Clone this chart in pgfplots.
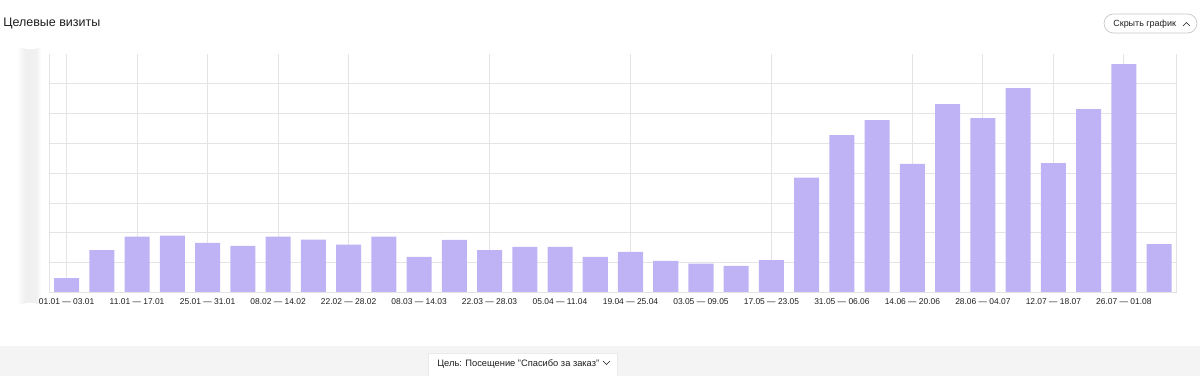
\documentclass[border=0pt]{standalone}
\usepackage{fontspec}
\setmainfont{Liberation Sans}
\usepackage{pgfplots}
\pgfplotsset{compat=1.18}
\definecolor{barc}{HTML}{BFB3F5}
\definecolor{gridc}{HTML}{E4E4E4}
\definecolor{band}{HTML}{F4F4F4}
\definecolor{txt}{HTML}{1E1E1E}
\begin{document}
\begin{tikzpicture}[x=0.02cm,y=0.02cm]
\path[use as bounding box] (0,0) rectangle (1200,376);
% bottom band
\fill[band] (0,0) rectangle (1200,30);
\fill[white] (428,0) rectangle (617,23);
\draw[black!8] (428,0) -- (428,23) -- (617,23) -- (617,0);
\node[anchor=base west, inner sep=0pt, text=txt, font=\fontsize{5.3}{6}\selectfont] at (437,10) {Цель: Посещение "Спасибо за заказ"};
\draw[txt, line width=0.3pt] (603,15) -- (606.5,11.5) -- (610,15);
% title
\node[anchor=base west, inner sep=0pt, text=txt, font=\fontsize{7.1}{8}\selectfont] at (3,349) {Целевые визиты};
% button
\draw[black!22, line width=0.4pt, rounded corners=0.19cm] (1104,343) rectangle (1197,362);
\node[anchor=base west, inner sep=0pt, text=txt, font=\fontsize{5.1}{6}\selectfont] at (1113,349) {Скрыть график};
\draw[txt, line width=0.3pt] (1183,350) -- (1186.5,353.5) -- (1190,350);
% blurred y labels
\shade[left color=white, right color=black!6] (17,73) rectangle (25,327);
\fill[black!6] (25,73) rectangle (36,327);
\shade[left color=black!6, right color=white] (36,73) rectangle (41,327);
\begin{axis}[
  at={(0.98cm,1.674cm)}, anchor=south west,
  width=22.56cm, height=4.766cm, scale only axis,
  xmin=-0.5, xmax=31.5, ymin=0, ymax=8,
  axis line style={draw=none},
  ytick={1,...,7}, yticklabels={},
  ymajorgrids, major grid style={gridc, line width=0.5pt},
  major tick length=0pt,
  xtick={0,2,...,30},
  xticklabels={01.01 — 03.01, 11.01 — 17.01, 25.01 — 31.01, 08.02 — 14.02, 22.02 — 28.02, 08.03 — 14.03, 22.03 — 28.03, 05.04 — 11.04, 19.04 — 25.04, 03.05 — 09.05, 17.05 — 23.05, 31.05 — 06.06, 14.06 — 20.06, 28.06 — 04.07, 12.07 — 18.07, 26.07 — 01.08},
  xticklabel style={font=\fontsize{4.8}{5.5}\selectfont, text=txt, inner sep=0pt, yshift=-3.3pt},
  extra x ticks={0,2,4,6,8,12,16,20,24,26,28,30},
  extra x tick labels={},
  extra x tick style={grid=major},
  clip=false,
]
\addplot[ybar, bar width=0.71, fill=barc, draw=none] coordinates {
(0,0.48) (1,1.42) (2,1.87) (3,1.90) (4,1.66) (5,1.56) (6,1.87) (7,1.77)
(8,1.60) (9,1.87) (10,1.19) (11,1.76) (12,1.42) (13,1.53) (14,1.53) (15,1.19)
(16,1.36) (17,1.06) (18,0.96) (19,0.89) (20,1.08) (21,3.85) (22,5.28) (23,5.78)
(24,4.31) (25,6.32) (26,5.85) (27,6.86) (28,4.34) (29,6.15) (30,7.66) (31,1.62)
};
\draw[gridc, line width=0.5pt] (rel axis cs:0,1) -- (rel axis cs:0,0) -- (rel axis cs:1,0) -- (rel axis cs:1,1);
\end{axis}
\end{tikzpicture}
\end{document}
